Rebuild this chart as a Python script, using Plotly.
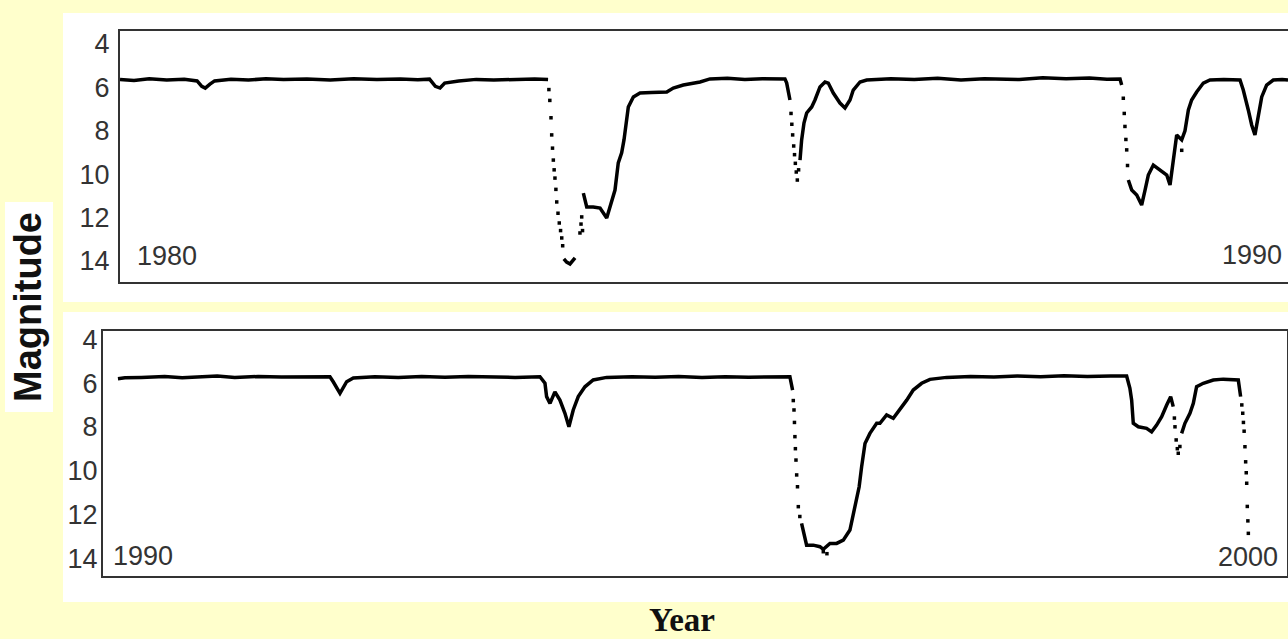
import plotly.graph_objects as go

# ---------------- data ----------------
# Top panel 1980-1990: continuous parts of the light curve (None = gap where points are sparse)
top_year = [1980.00, 1980.12, 1980.25, 1980.40, 1980.55, 1980.66, 1980.70, 1980.73, 1980.77, 1980.81,
            1980.95, 1981.10, 1981.25, 1981.40, 1981.60, 1981.80, 1982.00, 1982.20, 1982.40, 1982.55,
            1982.65, 1982.70, 1982.74, 1982.78, 1982.90, 1983.05, 1983.20, 1983.40, 1983.55, 1983.665,
            None,
            1983.80, 1983.824, 1983.853, 1983.896,
            None,
            1983.967, 1983.996, 1984.052, 1984.11, 1984.167, 1984.21, 1984.238, 1984.266, 1984.295,
            1984.315, 1984.332, 1984.352, 1984.395, 1984.452, 1984.55, 1984.681, 1984.737, 1984.823,
            1984.966, 1985.051, 1985.20, 1985.35, 1985.50, 1985.693, 1985.708, 1985.736,
            None,
            1985.822, 1985.836, 1985.856, 1985.879, 1985.922, 1985.95, 1985.993, 1986.036, 1986.064,
            1986.107, 1986.164, 1986.207, 1986.25, 1986.278, 1986.336, 1986.393, 1986.60, 1986.80,
            1987.00, 1987.20, 1987.40, 1987.55, 1987.70, 1987.90, 1988.10, 1988.30, 1988.45, 1988.562,
            1988.576,
            None,
            1988.633, 1988.662, 1988.705, 1988.747, 1988.776, 1988.804, 1988.847, 1988.904, 1988.962,
            1988.99, 1989.018, 1989.047, 1989.09, 1989.118, 1989.147, 1989.175, 1989.218, 1989.275,
            1989.332, 1989.45, 1989.589, 1989.617, 1989.66, 1989.689, 1989.717, 1989.746, 1989.775,
            1989.817, 1989.874, 1989.95, 1990.00]
top_mag = [5.63, 5.68, 5.60, 5.66, 5.62, 5.70, 5.95, 6.03, 5.85, 5.70,
           5.62, 5.66, 5.60, 5.64, 5.61, 5.66, 5.60, 5.63, 5.61, 5.65,
           5.62, 5.95, 6.03, 5.80, 5.70, 5.63, 5.66, 5.62, 5.61, 5.63,
           None,
           13.90, 14.05, 14.14, 13.86,
           None,
           10.87, 11.51, 11.51, 11.56, 12.02, 11.19, 10.73, 9.48, 9.02,
           8.42, 7.64, 6.90, 6.44, 6.26, 6.24, 6.21, 6.03, 5.89,
           5.75, 5.61, 5.58, 5.63, 5.60, 5.61, 5.80, 6.58,
           None,
           9.35, 8.42, 7.64, 7.18, 6.90, 6.58, 5.98, 5.75, 5.80,
           6.26, 6.72, 6.95, 6.58, 6.12, 5.75, 5.66, 5.60, 5.63,
           5.58, 5.66, 5.60, 5.62, 5.64, 5.55, 5.60, 5.57, 5.62, 5.61,
           5.89,
           None,
           10.27, 10.73, 10.96, 11.42, 10.73, 10.04, 9.58, 9.81, 10.04,
           10.50, 9.35, 8.19, 8.42, 8.00, 7.04, 6.58, 6.21, 5.80,
           5.66, 5.64, 5.66, 6.12, 7.04, 7.73, 8.19, 7.27, 6.44,
           5.89, 5.66, 5.64, 5.66]

# Top panel: sparse points of the fast fades
top_fade_year = [1983.672, 1983.680, 1983.690, 1983.696, 1983.703, 1983.710, 1983.717, 1983.724,
                 1983.732, 1983.739, 1983.750, 1983.761, 1983.772, 1983.782, 1983.790,
                 1983.938, 1983.947, 1983.953, 1983.960,
                 1985.745, 1985.752, 1985.759, 1985.768, 1985.775, 1985.782, 1985.790, 1985.799, 1985.810,
                 1988.590, 1988.598, 1988.604, 1988.612, 1988.619, 1988.626, 1989.09]
top_fade_mag = [6.10, 6.60, 7.40, 8.19, 8.80, 9.35, 9.80, 10.18,
                10.70, 11.28, 11.80, 12.25, 12.60, 12.94, 13.30,
                12.71, 12.30, 11.97, 12.60,
                7.20, 7.70, 8.19, 8.70, 9.10, 9.50, 9.90, 10.27, 9.80,
                6.50, 7.20, 7.80, 8.40, 8.88, 9.60, 8.90]

# Bottom panel 1990-2000
bot_year = [1990.00, 1990.06, 1990.20, 1990.40, 1990.55, 1990.70, 1990.85, 1991.00, 1991.20, 1991.40,
            1991.60, 1991.815, 1991.843, 1991.901, 1991.958, 1992.015, 1992.20, 1992.40, 1992.60,
            1992.80, 1993.00, 1993.20, 1993.40, 1993.613, 1993.656, 1993.67, 1993.699, 1993.741,
            1993.784, 1993.827, 1993.861, 1993.898, 1993.941, 1993.998, 1994.069, 1994.184, 1994.40,
            1994.60, 1994.80, 1995.00, 1995.20, 1995.40, 1995.60, 1995.753, 1995.776,
            None,
            1995.853, 1995.882, 1995.896, 1995.953, 1996.01, 1996.039, 1996.096, 1996.153, 1996.21,
            1996.267, 1996.295, 1996.324, 1996.346, 1996.367, 1996.396, 1996.438, 1996.496, 1996.524,
            1996.581, 1996.638, 1996.695, 1996.753, 1996.809, 1996.881, 1996.952, 1997.095, 1997.30,
            1997.50, 1997.70, 1997.90, 1998.10, 1998.30, 1998.50, 1998.636, 1998.664, 1998.679,
            1998.693, 1998.736, 1998.807, 1998.85, 1998.893, 1998.936, 1998.979, 1999.013, 1999.035,
            None,
            1999.107, 1999.135, 1999.178, 1999.207, 1999.235, 1999.292, 1999.378, 1999.463, 1999.592,
            1999.612]
bot_mag = [5.80, 5.76, 5.74, 5.70, 5.76, 5.72, 5.68, 5.74, 5.70, 5.72,
           5.71, 5.71, 5.94, 6.47, 5.94, 5.77, 5.71, 5.74, 5.70,
           5.73, 5.70, 5.72, 5.74, 5.71, 6.01, 6.62, 6.93, 6.40,
           6.78, 7.38, 8.00, 7.23, 6.62, 6.17, 5.86, 5.74, 5.71,
           5.73, 5.70, 5.74, 5.71, 5.73, 5.70, 5.71, 6.32,
           None,
           12.41, 13.03, 13.41, 13.41, 13.48, 13.60, 13.33, 13.33, 13.18,
           12.72, 11.96, 11.35, 10.74, 9.83, 8.76, 8.30, 7.84, 7.84,
           7.46, 7.61, 7.23, 6.78, 6.32, 6.01, 5.83, 5.74, 5.70,
           5.72, 5.68, 5.71, 5.66, 5.70, 5.68, 5.68, 6.24, 6.78,
           7.84, 8.00, 8.07, 8.23, 7.92, 7.54, 7.00, 6.62, 7.08,
           None,
           8.30, 7.84, 7.38, 6.93, 6.17, 6.01, 5.86, 5.82, 5.86,
           6.62]

bot_fade_year = [1995.782, 1995.788, 1995.792, 1995.796, 1995.800, 1995.805, 1995.811, 1995.818,
                 1995.825, 1995.838, 1996.039, 1996.07,
                 1999.045, 1999.050, 1999.060, 1999.070, 1999.078, 1999.092,
                 1999.622, 1999.630, 1999.636, 1999.642, 1999.649, 1999.655, 1999.660, 1999.664,
                 1999.669, 1999.674, 1999.678]
bot_fade_mag = [6.80, 7.23, 7.80, 8.45, 9.00, 9.52, 10.20, 10.74,
                11.65, 12.10, 13.71, 13.80,
                7.60, 8.00, 8.60, 9.00, 9.21, 8.90,
                7.00, 7.38, 7.80, 8.20, 8.91, 9.60, 10.10, 10.58,
                11.64, 12.30, 12.87]

mag_ticks = [4, 6, 8, 10, 12, 14]
year_labels = ["1980", "1990", "1990", "2000"]

# ---------------- figure ----------------
W, H = 1288, 639
def px(x):
    return x / W
def py(y):
    return 1 - y / H

fig = go.Figure()
fig.add_trace(go.Scatter(x=top_year, y=top_mag, mode="lines", line=dict(color="black", width=3.5),
                         connectgaps=False, xaxis="x", yaxis="y", showlegend=False))
fig.add_trace(go.Scatter(x=top_fade_year, y=top_fade_mag, mode="markers",
                         marker=dict(color="black", size=3.5, symbol="square"),
                         xaxis="x", yaxis="y", showlegend=False))
fig.add_trace(go.Scatter(x=bot_year, y=bot_mag, mode="lines", line=dict(color="black", width=3.5),
                         connectgaps=False, xaxis="x2", yaxis="y2", showlegend=False))
fig.add_trace(go.Scatter(x=bot_fade_year, y=bot_fade_mag, mode="markers",
                         marker=dict(color="black", size=3.5, symbol="square"),
                         xaxis="x2", yaxis="y2", showlegend=False))

tickfont = dict(family="Liberation Sans, Arial, sans-serif", size=27, color="#333333")
axis_common = dict(showgrid=False, zeroline=False, showline=True, linecolor="#333333",
                   linewidth=2, mirror=True, ticks="", fixedrange=True, automargin=False)

fig.update_layout(
    width=W, height=H,
    margin=dict(l=0, r=0, t=0, b=0, pad=0, autoexpand=False),
    showlegend=False,
    paper_bgcolor="#FFFFCC",
    plot_bgcolor="white",
    xaxis=dict(domain=[px(120), 1.0], range=[1980.0, 1990.0], showticklabels=False,
               anchor="y", **axis_common),
    yaxis=dict(domain=[py(282), py(31)], range=[14.97, 3.40], tickvals=mag_ticks,
               tickfont=tickfont, ticklabelstandoff=3, anchor="x", **axis_common),
    xaxis2=dict(domain=[px(103), px(1287)], range=[1989.872, 2000.009], showticklabels=False,
                anchor="y2", **axis_common),
    yaxis2=dict(domain=[py(576), py(331)], range=[14.82, 3.62], tickvals=mag_ticks,
                tickfont=tickfont, ticklabelstandoff=-2, anchor="x2", **axis_common),
    shapes=[
        dict(type="rect", xref="paper", yref="paper", x0=px(63), x1=1.0, y0=py(302), y1=py(13),
             fillcolor="white", line=dict(width=0), layer="below"),
        dict(type="rect", xref="paper", yref="paper", x0=px(63), x1=1.0, y0=py(602), y1=py(312),
             fillcolor="white", line=dict(width=0), layer="below"),
        dict(type="rect", xref="paper", yref="paper", x0=px(5), x1=px(53), y0=py(412), y1=py(202),
             fillcolor="white", line=dict(width=0), layer="below"),
    ],
    annotations=[
        dict(text=year_labels[0], xref="paper", yref="paper", x=px(135), y=py(256),
             xanchor="left", yanchor="middle", showarrow=False, font=tickfont),
        dict(text=year_labels[1], xref="paper", yref="paper", x=px(1284), y=py(255),
             xanchor="right", yanchor="middle", showarrow=False, font=tickfont),
        dict(text=year_labels[2], xref="paper", yref="paper", x=px(111), y=py(556),
             xanchor="left", yanchor="middle", showarrow=False, font=tickfont),
        dict(text=year_labels[3], xref="paper", yref="paper", x=px(1280), y=py(557),
             xanchor="right", yanchor="middle", showarrow=False, font=tickfont),
        dict(text="<b>Magnitude</b>", xref="paper", yref="paper", x=px(28), y=py(307),
             xanchor="center", yanchor="middle", textangle=-90, showarrow=False,
             font=dict(family="Liberation Sans, Arial, sans-serif", size=38, color="#111111")),
        dict(text="<b>Year</b>", xref="paper", yref="paper", x=px(682), y=0.0,
             xanchor="center", yanchor="bottom", showarrow=False, borderpad=0,
             font=dict(family="Liberation Serif, Times New Roman, serif", size=33, color="#111111")),
    ],
)

fig.write_html("out.html", config={"displayModeBar": False},
               post_script="document.body.style.margin='0';document.body.style.overflow='hidden';")
